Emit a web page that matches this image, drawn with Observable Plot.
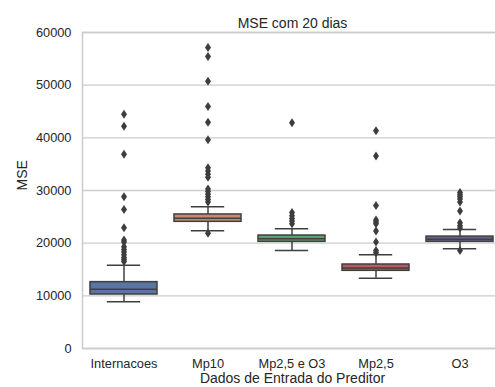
<!DOCTYPE html>
<html>
<head>
<meta charset="utf-8">
<script src="https://cdn.jsdelivr.net/npm/d3@7"></script>
<script src="https://cdn.jsdelivr.net/npm/@observablehq/plot@0.6"></script>
<style>
  html, body { margin: 0; padding: 0; background: #fff; overflow: hidden; }
  #chart svg { overflow: hidden; }
</style>
</head>
<body>
<div id="chart"></div>
<script>
const categories = ["Internacoes", "Mp10", "Mp2,5 e O3", "Mp2,5", "O3"];
const q1Values = [10250, 24050, 20250, 14750, 20250];
const medianValues = [11250, 24750, 20850, 15300, 20750];
const q3Values = [12600, 25450, 21450, 15950, 21250];
const whiskerLow = [8900, 22350, 18600, 13350, 18950];
const whiskerHigh = [15800, 26900, 22750, 17800, 22600];
const outlierValues = [
  [44500, 42200, 36900, 28800, 26400, 22950, 20600, 20200, 19300, 18800, 18300, 17800, 17300, 16900, 16500],
  [57150, 55450, 50750, 45950, 42950, 39650, 34300, 33700, 33100, 32500, 30300, 29800, 29300, 28800, 28300, 27800, 21900],
  [42850, 25800, 25200, 24700, 24200, 23700],
  [41350, 36550, 27150, 24400, 24000, 23700, 22300, 20200, 18600, 18200],
  [29600, 29200, 28800, 28400, 27800, 26100, 23900, 23300, 22900, 18600]
];
const boxColors = ["#5975a4", "#cc8963", "#5f9e6e", "#b55d60", "#66648a"];
const yTicks = [0, 10000, 20000, 30000, 40000, 50000, 60000];
const titleText = "MSE com 20 dias";
const xLabel = "Dados de Entrada do Preditor";
const yLabel = "MSE";

const boxes = categories.map((c, i) => ({
  cat: c, q1: q1Values[i], med: medianValues[i], q3: q3Values[i],
  lo: whiskerLow[i], hi: whiskerHigh[i], color: boxColors[i]
}));
const fliers = categories.flatMap((c, i) => outlierValues[i].map(v => ({cat: c, v})));

const thinDiamond = {
  draw(context) {
    const h = 4.5, w = 3;
    context.moveTo(0, -h);
    context.lineTo(w, 0);
    context.lineTo(0, h);
    context.lineTo(-w, 0);
    context.closePath();
  }
};

const lineColor = "#3f3f3f";
const bw = 67.2;

const chart = Plot.plot({
  width: 495,
  height: 387,
  marginLeft: 82,
  marginRight: -7,
  marginTop: 32,
  marginBottom: 39,
  style: {fontFamily: "'Liberation Sans', Arial, sans-serif", fontSize: "12.8px", color: "#262626", background: "#fff"},
  x: {domain: categories, paddingInner: 0.2, paddingOuter: 0.1, label: null, tickSize: 0, tickPadding: 10},
  y: {domain: [0, 60000], ticks: yTicks, tickFormat: d3.format("d"), label: null, tickSize: 0, tickPadding: 11},
  marks: [
    Plot.gridY(yTicks, {stroke: "#cccccc", strokeOpacity: 1, strokeWidth: 1.3}),
    Plot.frame({stroke: "#cccccc", strokeWidth: 1.5}),
    Plot.ruleX(boxes, {x: "cat", y1: "q3", y2: "hi", stroke: lineColor, strokeWidth: 1.5}),
    Plot.ruleX(boxes, {x: "cat", y1: "lo", y2: "q1", stroke: lineColor, strokeWidth: 1.5}),
    Plot.tickY(boxes, {x: "cat", y: "hi", stroke: lineColor, strokeWidth: 1.5, insetLeft: bw / 4, insetRight: bw / 4}),
    Plot.tickY(boxes, {x: "cat", y: "lo", stroke: lineColor, strokeWidth: 1.5, insetLeft: bw / 4, insetRight: bw / 4}),
    Plot.barY(boxes, {x: "cat", y1: "q1", y2: "q3", fill: "color", stroke: lineColor, strokeWidth: 1.5}),
    Plot.tickY(boxes, {x: "cat", y: "med", stroke: lineColor, strokeWidth: 1.5}),
    Plot.dot(fliers, {x: "cat", y: "v", symbol: thinDiamond, fill: "#3d3d3d", stroke: "none", r: 3}),
    Plot.text([titleText], {frameAnchor: "top", dy: -14, fontSize: 14, fill: "#262626"}),
    Plot.text([xLabel], {frameAnchor: "bottom", dy: 34, fontSize: 14, fill: "#262626"}),
    Plot.text([yLabel], {frameAnchor: "left", dx: -60, rotate: -90, fontSize: 14, fill: "#262626"})
  ]
});
document.getElementById("chart").appendChild(chart);
</script>
</body>
</html>
